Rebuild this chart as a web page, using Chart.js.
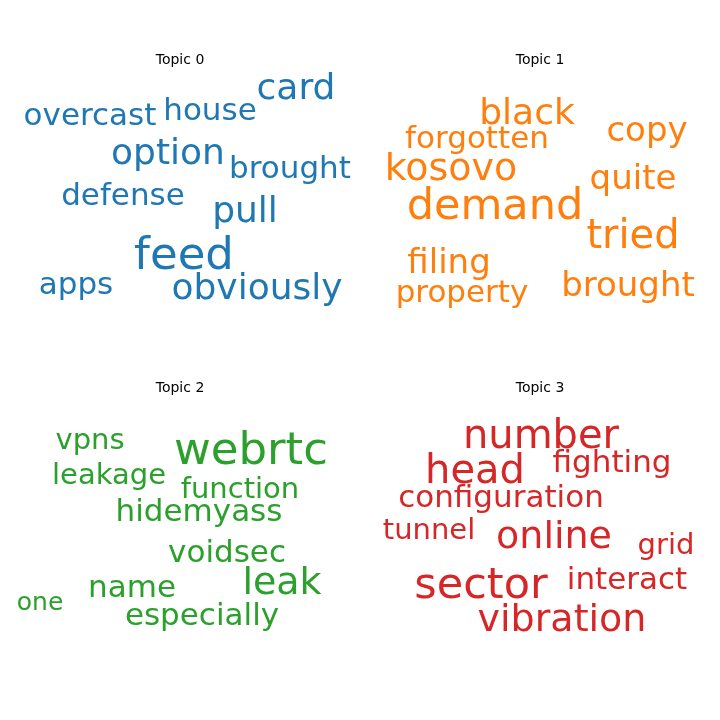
<!DOCTYPE html>
<html lang="en">
<head>
<meta charset="UTF-8">
<title>Topic word clouds</title>
<script src="https://cdn.jsdelivr.net/npm/chart.js@4.4.0/dist/chart.umd.min.js"></script>
<style>
    html, body { margin: 0; padding: 0; background: #fff; overflow: hidden; }
    .panel { position: absolute; width: 360px; height: 360px; }
</style>
</head>
<body>
<div class="panel" style="left:0;top:0"><canvas id="c0" width="360" height="360"></canvas></div>
<div class="panel" style="left:360px;top:0"><canvas id="c1" width="360" height="360"></canvas></div>
<div class="panel" style="left:0;top:328px"><canvas id="c2" width="360" height="360"></canvas></div>
<div class="panel" style="left:360px;top:328px"><canvas id="c3" width="360" height="360"></canvas></div>
<script>
    // words per topic, with x/y placement in the panel and weight (font px)
    let topic0_words = ["overcast", "house", "card", "option", "brought", "defense", "pull", "feed", "apps", "obviously"];
    let topic0_x = [90, 210, 296, 168, 290, 123, 245, 184, 76, 257];
    let topic0_y = [117, 112, 90, 155, 170, 197, 213, 257, 286, 290];
    let topic0_w = [28, 28, 32, 32, 28, 28, 32, 40, 28, 32];

    let topic1_words = ["black", "copy", "forgotten", "kosovo", "quite", "demand", "tried", "filing", "property", "brought"];
    let topic1_x = [167, 287, 117, 91, 273, 135, 273, 89, 102, 268];
    let topic1_y = [115, 132, 140, 170, 180, 208, 238, 264, 294, 287];
    let topic1_w = [32, 30, 28, 34, 30, 38, 36, 30, 28, 30];

    let topic2_words = ["vpns", "webrtc", "leakage", "function", "hidemyass", "voidsec", "leak", "name", "one", "especially"];
    let topic2_x = [90, 251, 109, 240, 199, 227, 282, 132, 40, 202];
    let topic2_y = [113, 124, 148, 162, 185, 226, 256, 261, 275, 289];
    let topic2_w = [26, 40, 26, 26, 28, 28, 34, 28, 22, 28];

    let topic3_words = ["number", "fighting", "head", "configuration", "tunnel", "online", "grid", "sector", "interact", "vibration"];
    let topic3_x = [181, 252, 115, 141, 69, 194, 306, 121, 267, 202];
    let topic3_y = [110, 136, 145, 171, 203, 210, 218, 259, 253, 293];
    let topic3_w = [36, 28, 36, 28, 26, 34, 26, 38, 28, 34];

    let topic_titles = ["Topic 0", "Topic 1", "Topic 2", "Topic 3"];
    let topic_colors = ["#1f77b4", "#ff7f0e", "#2ca02c", "#d62728"];
    let title_y = [60, 60, 60, 60];
    const FONT_SCALE = 1.12;

    let topics = [
        [topic0_words, topic0_x, topic0_y, topic0_w],
        [topic1_words, topic1_x, topic1_y, topic1_w],
        [topic2_words, topic2_x, topic2_y, topic2_w],
        [topic3_words, topic3_x, topic3_y, topic3_w]
    ];

    // draws each point's word at the point position
    const wordPlugin = {
        id: 'words',
        afterDatasetsDraw(chart, args, opts) {
            var ctx = chart.ctx;
            var ds = chart.data.datasets[0];
            var meta = chart.getDatasetMeta(0);
            ctx.save();
            ctx.textAlign = 'center';
            ctx.textBaseline = 'middle';
            ctx.fillStyle = ds.wordColor;
            meta.data.forEach(function(pt, i) {
                var d = ds.data[i];
                ctx.font = Math.round(d.w * FONT_SCALE) + 'px "DejaVu Sans"';
                ctx.fillText(d.word, pt.x, pt.y);
            });
            ctx.fillStyle = '#000';
            ctx.font = '14px "DejaVu Sans"';
            ctx.fillText(opts.title, chart.width / 2, opts.titleY);
            ctx.restore();
        }
    };

    topics.forEach(function(t, k) {
        var pts = t[0].map(function(w, i) {
            return { x: t[1][i], y: t[2][i], w: t[3][i], word: w };
        });
        new Chart(document.getElementById('c' + k), {
            type: 'scatter',
            data: { datasets: [{ data: pts, pointRadius: 0, wordColor: topic_colors[k] }] },
            options: {
                responsive: false,
                animation: false,
                layout: { padding: 0 },
                scales: {
                    x: { display: false, min: 0, max: 360 },
                    y: { display: false, min: 0, max: 360, reverse: true }
                },
                plugins: {
                    legend: { display: false },
                    tooltip: { enabled: false },
                    words: { title: topic_titles[k], titleY: title_y[k] }
                }
            },
            plugins: [wordPlugin]
        });
    });
</script>
</body>
</html>
